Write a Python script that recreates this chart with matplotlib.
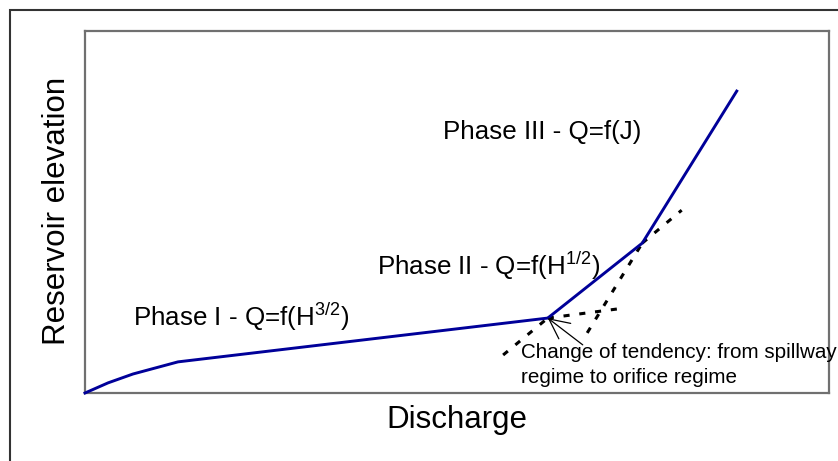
#Reservoir elevation vs discharge sketch - three flow phases
import matplotlib
matplotlib.use("Agg")
import matplotlib.pyplot as plt
from matplotlib.patches import Rectangle

plt.rcParams['font.family'] = ['Liberation Sans', 'DejaVu Sans']
plt.rcParams['mathtext.fontset'] = 'custom'
plt.rcParams['mathtext.rm'] = 'Liberation Sans'

# rating curve (arbitrary units, 0-100 on both axes)
discharge = [0, 3.1, 6.45, 12.5, 62.2, 74.9, 87.6]
elevation = [0, 2.8, 5.25, 8.6, 20.7, 41.4, 83.4]

# dashed extensions of the phase segments
ext_phase1_x = [62.2, 71.5]
ext_phase1_y = [20.7, 23.2]
ext_phase2_back_x = [56.2, 62.2]
ext_phase2_back_y = [10.5, 20.7]
ext_phase3_back_x = [67.5, 74.9]
ext_phase3_back_y = [16.6, 41.4]
ext_phase2_fwd_x = [74.9, 80.2]
ext_phase2_fwd_y = [41.4, 50.5]

# label positions
phase_labels = [r'Phase I - Q=f(H$^{\mathrm{3/2}}$)',
                r'Phase II - Q=f(H$^{\mathrm{1/2}}$)',
                'Phase III - Q=f(J)']
phase_x = [6.45, 39.2, 48.1]
phase_y = [18.5, 32.6, 70.2]

note_lines = ['Change of tendency: from spillway', 'regime to orifice regime']
note_x = 58.6
note_y = [9.7, 2.8]
arrow_tip = (62.2, 20.7)
arrow_tail = (66.9, 13.3)

fig = plt.figure(figsize=(8.38, 4.61), dpi=100)
ax = fig.add_axes([85/838, (461-393)/461, 744/838, 362/461])

# outer frame (runs off the bottom/right of the image)
fig.patches.append(Rectangle((10/838, -0.2), 2.0, (461-10)/461 + 0.2,
                             transform=fig.transFigure, fill=False,
                             edgecolor='#333333', linewidth=1.5))

ax.plot(discharge, elevation, color='#000099', linewidth=2.1, clip_on=False,
        solid_joinstyle='miter', zorder=3)

dash = dict(color='black', linewidth=2.2, linestyle=(0, (2.0, 3.2)), zorder=2)
ax.plot(ext_phase1_x, ext_phase1_y, **dash)
ax.plot(ext_phase2_back_x, ext_phase2_back_y, **dash)
ax.plot(ext_phase3_back_x, ext_phase3_back_y, **dash)
ax.plot(ext_phase2_fwd_x, ext_phase2_fwd_y, **dash)

for lab, x, y in zip(phase_labels, phase_x, phase_y):
    ax.text(x, y, lab, fontsize=18.7, va='baseline', ha='left')

for line, y in zip(note_lines, note_y):
    ax.text(note_x, y, line, fontsize=14.9, va='baseline', ha='left')

ax.annotate('', xy=arrow_tip, xytext=arrow_tail,
            arrowprops=dict(arrowstyle='->,head_length=0.72,head_width=0.35',
                            mutation_scale=20, color='black', lw=0.9,
                            shrinkA=0, shrinkB=0))

ax.set_xlim(0, 100)
ax.set_ylim(0, 100)
ax.set_xticks([])
ax.set_yticks([])
for s in ax.spines.values():
    s.set_color('#707070')
    s.set_linewidth(1.6)

fig.text(457/838, (461-428)/461, 'Discharge', fontsize=22.5, ha='center', va='baseline')
fig.text(57/838, (461-211)/461, 'Reservoir elevation', fontsize=22.5,
         rotation=90, ha='center', va='center')

plt.savefig('out.png', dpi=100)
